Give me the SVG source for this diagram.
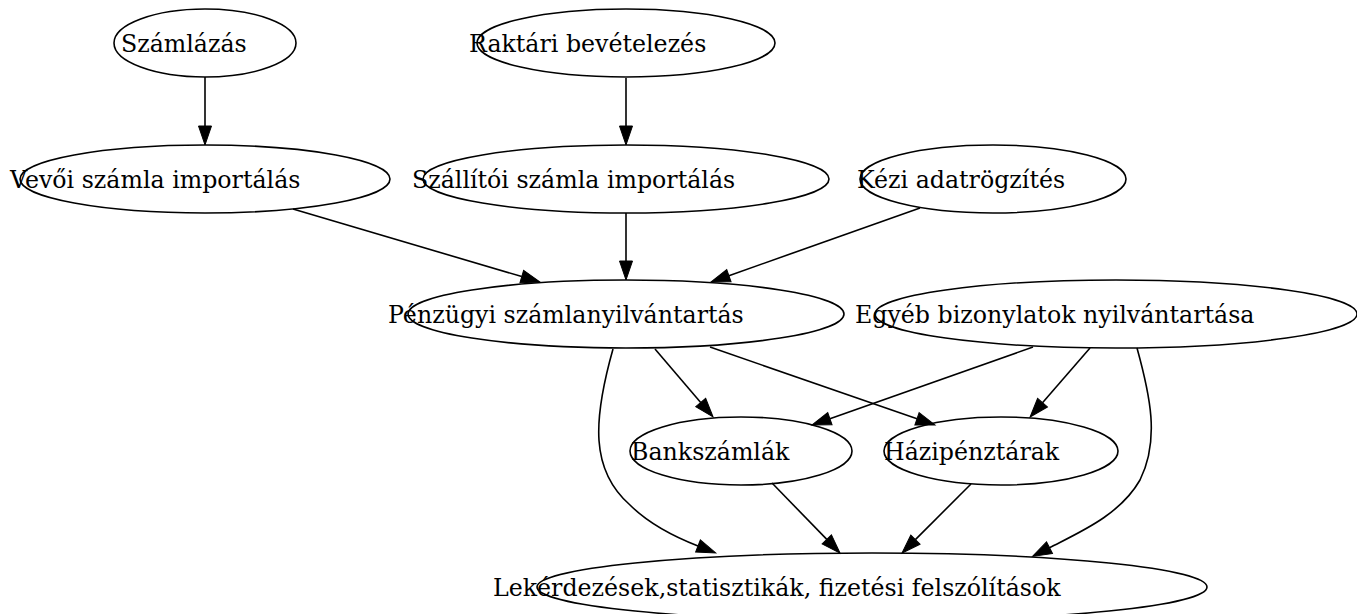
<svg xmlns="http://www.w3.org/2000/svg" width="1357" height="614" viewBox="0 0 1357 614">
<defs>
<style>
.n ellipse{fill:none;stroke:#000;stroke-width:1.6}
.n text{font-family:"DejaVu Serif",serif;font-size:23.7px;fill:#000}
.e path{fill:none;stroke:#000;stroke-width:1.6;marker-end:url(#ah)}
</style>
<marker id="ah" markerUnits="userSpaceOnUse" markerWidth="20" markerHeight="14" refX="0" refY="6.5" orient="auto" overflow="visible">
<path d="M0,0 L19,6.5 L0,13 z" fill="#000" stroke="#000" stroke-width="1"/>
</marker>
</defs>
<rect width="1357" height="614" fill="#fff"/>
<g id="edges" class="e">
<path d="M205,77 L205,126"/>
<path d="M626,78 L626,126"/>
<path d="M626,213 L626,261"/>
<path d="M293,209 L521.8,276.6"/>
<path d="M920,208 L728.9,275.7"/>
<path d="M655,349 L700.7,402.5"/>
<path d="M710,347 L917,418.8"/>
<path d="M1033,347 L829.9,418.7"/>
<path d="M1090,348 L1042.5,402.7"/>
<path d="M772,483 L826.8,539.4"/>
<path d="M971,484 L915.4,539.6"/>
<path d="M613,349 C593,420 590,470 630,505 C650,525 675,537 698,546"/>
<path d="M1137,348 C1150,395 1160,440 1140,480 C1120,515 1080,532 1049.5,547.7"/>
</g>
<g id="n1" class="n"><ellipse cx="205" cy="43" rx="91" ry="34"/><text x="121" y="52">Számlázás</text></g>
<g id="n2" class="n"><ellipse cx="626" cy="43" rx="149" ry="34"/><text x="469" y="52">Raktári bevételezés</text></g>
<g id="n3" class="n"><ellipse cx="205" cy="179" rx="185" ry="34"/><text x="10" y="188">Vevői számla importálás</text></g>
<g id="n4" class="n"><ellipse cx="626" cy="179" rx="203" ry="34"/><text x="412" y="188">Szállítói számla importálás</text></g>
<g id="n5" class="n"><ellipse cx="993" cy="179" rx="133" ry="34"/><text x="857" y="188">Kézi adatrögzítés</text></g>
<g id="n6" class="n"><ellipse cx="626" cy="314" rx="218" ry="34"/><text x="388" y="323">Pénzügyi számlanyilvántartás</text></g>
<g id="n7" class="n"><ellipse cx="1116" cy="314" rx="241" ry="34"/><text x="855" y="323">Egyéb bizonylatok nyilvántartása</text></g>
<g id="n8" class="n"><ellipse cx="741" cy="451" rx="111" ry="34"/><text x="631" y="460">Bankszámlák</text></g>
<g id="n9" class="n"><ellipse cx="1001" cy="451" rx="117" ry="34"/><text x="884" y="460">Házipénztárak</text></g>
<g id="n10" class="n"><ellipse cx="872" cy="587" rx="335" ry="34"/><text x="493" y="596">Lekérdezések,statisztikák, fizetési felszólítások</text></g>
</svg>
